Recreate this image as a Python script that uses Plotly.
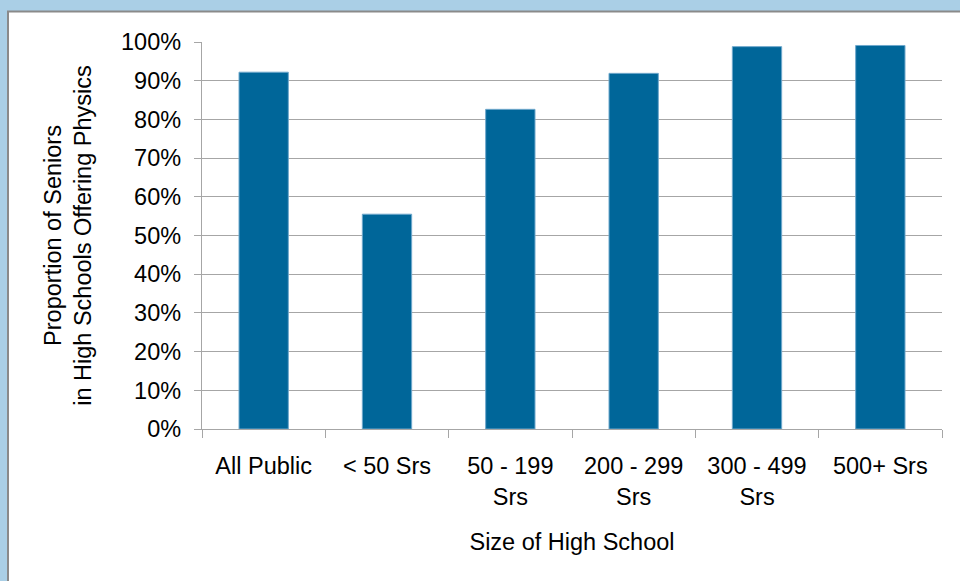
import plotly.graph_objects as go

categories = ["All Public", "< 50 Srs", "50 - 199<br>Srs", "200 - 299<br>Srs", "300 - 499<br>Srs", "500+ Srs"]
values = [0.922, 0.555, 0.826, 0.919, 0.988, 0.991]
y_ticks = [0, 0.1, 0.2, 0.3, 0.4, 0.5, 0.6, 0.7, 0.8, 0.9, 1.0]
y_tick_labels = ["0%", "10%", "20%", "30%", "40%", "50%", "60%", "70%", "80%", "90%", "100%"]
x_title = "Size of High School"
y_title = "Proportion of Seniors<br>in High Schools Offering Physics"

FONT = "Liberation Sans, Arial, sans-serif"
FS = 23.5
GRID = "#a6a6a6"

# plot area in pixels
L, R, T, B = 202, 942, 42, 429
W, H = R - L, B - T

def px_x(p):
    return (p - L) / W

def px_y(p):
    return (B - p) / H

fig = go.Figure()
fig.add_trace(go.Bar(
    x=categories, y=values,
    marker=dict(color="#006699", line=dict(color="#6fa8cc", width=1)),
    hoverinfo="skip",
))

fig.add_shape(type="rect", xref="paper", yref="paper",
              x0=px_x(8), x1=px_x(975), y0=px_y(600), y1=px_y(11.5),
              fillcolor="white", line=dict(color="#8a8a8a", width=2), layer="below")

fig.update_layout(
    width=960, height=581,
    margin=dict(l=L, r=960 - R, t=T, b=581 - B, pad=0),
    paper_bgcolor="#aacfe6",
    plot_bgcolor="rgba(0,0,0,0)",
    bargap=0.6,
    showlegend=False,
    font=dict(family=FONT, size=FS, color="black"),
    xaxis=dict(
        type="category",
        showline=True, linecolor=GRID, linewidth=1.3,
        ticks="outside", tickson="boundaries", ticklen=8, tickcolor=GRID, tickwidth=1.3,
        showgrid=False,
        tickfont=dict(family=FONT, size=FS, color="black"),
        ticklabelstandoff=16,
        title=dict(text=x_title, font=dict(family=FONT, size=FS, color="black"), standoff=24),
    ),
    yaxis=dict(
        range=[0, 1],
        tickvals=y_ticks, ticktext=y_tick_labels,
        showline=True, linecolor=GRID, linewidth=1.3,
        ticks="outside", ticklen=7, tickcolor=GRID, tickwidth=1.3,
        showgrid=True, gridcolor=GRID, gridwidth=1.3,
        zeroline=False,
        tickfont=dict(family=FONT, size=FS, color="black"),
        ticklabelstandoff=8,
        title=dict(text=y_title, font=dict(family=FONT, size=FS, color="black"), standoff=22),
    ),
)

fig.write_html("out.html")
